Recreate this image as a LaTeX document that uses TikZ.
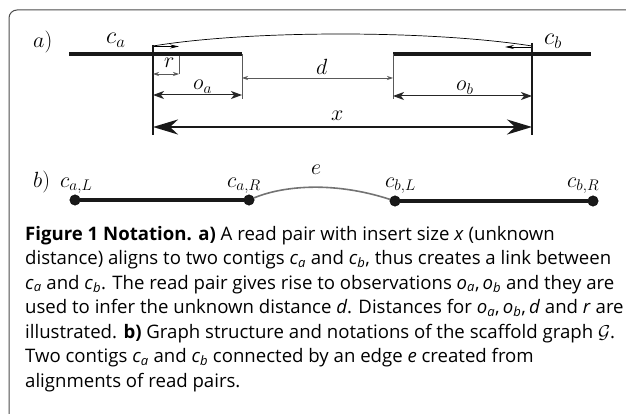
\RequirePackage{fix-cm}
\documentclass[tikz,border=0pt]{standalone}
\usepackage{fontspec}
\newfontfamily\capfont{Open Sans}
\usetikzlibrary{arrows.meta}
\newcommand\ci[2]{\textit{#1}\textsubscript{\textit{#2}}}
\definecolor{framegray}{gray}{0.3}
\definecolor{thingray}{gray}{0.35}
\tikzset{
  contig/.style={line width=4pt, black!90},
  bigv/.style={line width=1.5pt, black!90},
  thinv/.style={line width=0.8pt, thingray},
  smallarr/.style={line width=0.7pt, thingray, {Stealth[length=6pt,width=4pt]}-{Stealth[length=6pt,width=4pt]}},
  midarr/.style={line width=1pt, black!85, {Stealth[length=11pt,width=8pt,inset=3pt]}-{Stealth[length=11pt,width=8pt,inset=3pt]}},
  bigarr/.style={line width=2.5pt, black!90, {Stealth[length=25pt,width=15pt,inset=8pt]}-{Stealth[length=25pt,width=15pt,inset=8pt]}},
  readarr/.style={line width=0.8pt, black, -{Stealth[length=9pt,width=4pt]}},
  lab/.style={font=\fontsize{22}{24}\selectfont, inner sep=0pt, anchor=base west},
  biglab/.style={lab, font=\fontsize{24}{26}\selectfont},
  dot/.style={circle, fill=black!90, draw=black, inner sep=0pt, minimum size=10.5pt},
  edgecurve/.style={line width=1.6pt, black!55},
  caption/.style={font=\capfont\fontsize{18.6}{24.5}\selectfont, inner sep=0pt, anchor=base west, align=left}
}
\begin{document}
\begin{tikzpicture}[x=1pt,y=-1pt]
\useasboundingbox (0,0) rectangle (626,414);
% frame
\draw[framegray, line width=1pt, rounded corners=8pt] (9,414) -- (9,10) -- (626,10);

% ---------- part a ----------
\node[lab] (la) at (33,48) {$a)$};
\node[biglab] (lca) at (106,44) {$c_a$};
\node[biglab] (lcb) at (544,45) {$c_b$};

\coordinate (A0) at (69,54);
\coordinate (A1) at (242,54);
\coordinate (B0) at (393,54);
\coordinate (B1) at (591,54);
\draw[contig] (A0) -- (A1);
\draw[contig] (B0) -- (B1);

% read pair span arc
\draw[line width=0.7pt] (153,46) .. controls (250,30) and (430,30) .. (532,46);
\draw[readarr] (153,46.5) -- (179,46.5);
\draw[readarr] (532,47) -- (505,47);

% verticals
\draw[bigv] (153,45) -- (153,135);
\draw[bigv] (532,43) -- (532,135);
\draw[thinv] (A1) -- (242,99);
\draw[thinv] (B0) -- (393,99);
\draw[line width=0.6pt, thingray] (179,56) -- (179,74);

% r
\draw[smallarr] (153,74) -- (179,74);
\node[lab] (lr) at (164,68) {$r$};
% o_a
\draw[midarr] (153,95) -- (242,95);
\node[lab] (loa) at (193,90) {$o_a$};
% d
\draw[smallarr] (242,78) -- (393,78);
\node[lab] (ld) at (316,75) {$d$};
% o_b
\draw[midarr] (393,96) -- (532,96);
\node[lab] (lob) at (456,91) {$o_b$};
% x
\draw[bigarr] (153,127) -- (532,127);
\node[lab] (lx) at (331,121) {$x$};

% ---------- part b ----------
\node[lab] (lb) at (33,187) {$b)$};
\node[dot] (caL) at (75,200) {};
\node[dot] (caR) at (249,200) {};
\node[dot] (cbL) at (395,201) {};
\node[dot] (cbR) at (593,201) {};
\draw[contig] (caL) -- (caR);
\draw[contig] (cbL) -- (cbR);
\draw[edgecurve] (caR) .. controls (280,187) and (330,180) .. (cbL);
\node[lab] (lcaL) at (60,187) {$c_{a,L}$};
\node[lab] (lcaR) at (227,187) {$c_{a,R}$};
\node[lab] (le) at (311,175) {$e$};
\node[lab] (lcbL) at (385,187) {$c_{b,L}$};
\node[lab] (lcbR) at (567,187) {$c_{b,R}$};

% ---------- caption ----------
\node[caption] (cap) at (25,387) {%
\textbf{Figure 1 Notation. a)} A read pair with insert size \textit{x} (unknown\\
distance) aligns to two contigs \ci{c}{a} and \ci{c}{b}, thus creates a link between\\
\ci{c}{a} and \ci{c}{b}. The read pair gives rise to observations \ci{o}{a},\,\ci{o}{b} and they are\\
used to infer the unknown distance \textit{d}. Distances for \ci{o}{a},\,\ci{o}{b},\,\textit{d} and \textit{r} are\\
illustrated. \textbf{b)} Graph structure and notations of the scaffold graph $\mathcal{G}$.\\
Two contigs \ci{c}{a} and \ci{c}{b} connected by an edge \textit{e} created from\\
alignments of read pairs.};
\end{tikzpicture}
\end{document}
